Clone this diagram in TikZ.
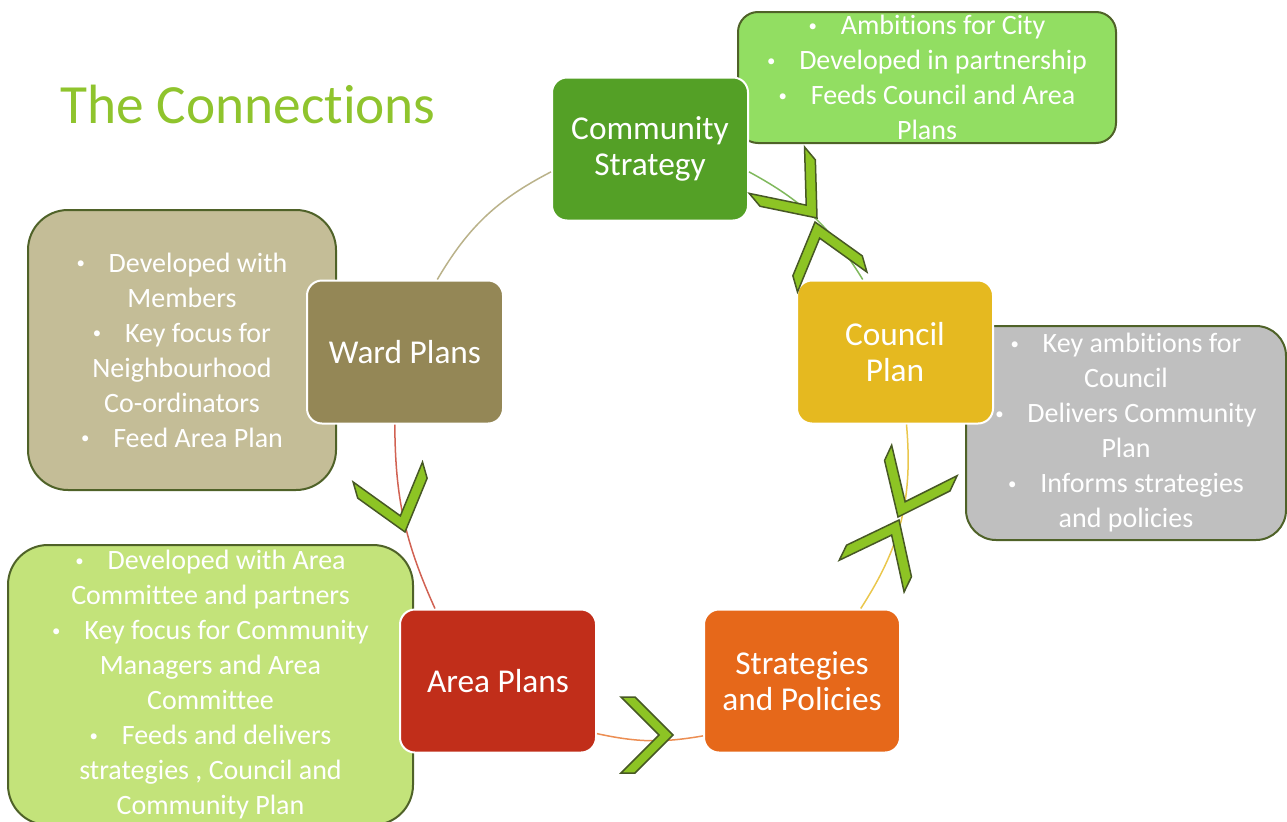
\documentclass[tikz,border=0pt]{standalone}
\usepackage{fontspec}
\setmainfont[Ligatures=NoCommon]{Carlito}
\usepackage{graphicx}
\usepackage{tikz}
\usetikzlibrary{positioning}

\newdimen\pxl \pxl=0.75pt
\newcommand\notebullet{\raisebox{0.12em}{\scalebox{0.6}{•}}\hspace{0.85em}}

\definecolor{titleGreen}{RGB}{143,196,45}
\definecolor{communityGreen}{RGB}{84,160,38}
\definecolor{councilYellow}{RGB}{229,185,32}
\definecolor{strategiesOrange}{RGB}{230,104,26}
\definecolor{areaRed}{RGB}{193,46,26}
\definecolor{wardOlive}{RGB}{148,135,86}
\definecolor{noteBorder}{RGB}{79,98,40}
\definecolor{cityNote}{RGB}{146,222,98}
\definecolor{wardNote}{RGB}{196,189,151}
\definecolor{councilNote}{RGB}{191,191,191}
\definecolor{areaNote}{RGB}{195,227,122}
\definecolor{chevronGreen}{RGB}{141,196,36}

\begin{document}
\begin{tikzpicture}[
        x=0.75pt, y=-0.75pt,
        stage/.style={
            rectangle, rounded corners=15\pxl, draw=white, line width=2\pxl, text=white, align=center,
            minimum width=196\pxl, minimum height=143\pxl, inner sep=0pt,
            font=\fontsize{25}{27}\selectfont
        },
        note/.style={
            rectangle, rounded corners=30\pxl, draw=noteBorder, line width=2\pxl, text=white, align=center,
            inner sep=0pt, font=\fontsize{21}{26.25}\selectfont
        },
        link/.style={line width=1.5\pxl, bend right=#1},
        chevron/.pic={
            \path[draw=noteBorder!90!black, fill=chevronGreen, line width=1.5\pxl]
                (0,0) -- (-38,-38) -- (-52,-38) -- (-14,0) -- (-52,38) -- (-38,38) -- cycle;
        },
    ]
    \clip (0,0) rectangle (1287,821);

    \node (title) [anchor=base west, text=titleGreen, font=\fontsize{41.5}{50}\selectfont] at (56,123) {The Connections};

    % notes behind the stages
    \node (communityStrategyNote) [note, fill=cityNote, rounded corners=20\pxl, minimum width=378\pxl, minimum height=131\pxl] at (927,77.5) {
        \notebullet Ambitions for City \\
        \notebullet Developed in partnership \\
        \notebullet Feeds Council and Area \\
        Plans
    };
    \node (wardPlansNote) [note, fill=wardNote, rounded corners=40\pxl, minimum width=308\pxl, minimum height=280\pxl] at (182,350) {
        \notebullet Developed with \\
        Members \\
        \notebullet Key focus for \\
        Neighbourhood \\
        Co-ordinators \\
        \notebullet Feed Area Plan
    };
    \node (councilPlanNote) [note, fill=councilNote, minimum width=320\pxl, minimum height=214\pxl] at (1126,433) {
        \notebullet Key ambitions for \\
        Council \\
        \notebullet Delivers Community \\
        Plan \\
        \notebullet Informs strategies \\
        and policies
    };
    \node (areaPlansNote) [note, fill=areaNote, rounded corners=40\pxl, minimum width=405\pxl, minimum height=280\pxl] at (210.5,685) {
        \notebullet Developed with Area \\
        Committee and partners \\
        \notebullet Key focus for Community \\
        Managers and Area \\
        Committee \\
        \notebullet Feeds and delivers \\
        strategies , Council and \\
        Community Plan
    };

    \node (communityStrategy) [stage, fill=communityGreen] at (650,149) {Community \\ Strategy};
    \node (councilPlan) [stage, fill=councilYellow] at (895,352) {Council \\ Plan};
    \node (strategiesPolicies) [stage, fill=strategiesOrange] at (802,681) {Strategies \\ and Policies};
    \node (areaPlans) [stage, fill=areaRed] at (498,681) {Area Plans};
    \node (wardPlans) [stage, fill=wardOlive] at (405,352) {Ward Plans};

    \path (communityStrategy.193) edge[link=16, draw=wardNote!80!wardOlive] (wardPlans.66);
    \path (wardPlans.262) edge[link=12, draw=areaRed!75] (areaPlans.131);
    \path (areaPlans.332) edge[link=11, draw=strategiesOrange!75] (strategiesPolicies.209);
    \path (strategiesPolicies.51) edge[link=19, draw=councilYellow!80] (councilPlan.279);
    \path (councilPlan.114) edge[link=15, draw=communityGreen!75] (communityStrategy.347);

    % chevrons on the ring
    \pic[rotate=-50, xscale=1.2, yscale=.95] at (817,218) {chevron};
    \pic[rotate=106, xscale=1.2, yscale=.95] at (815,222) {chevron};
    \pic[rotate=-115, xscale=1.2, yscale=.95] at (898,517) {chevron};
    \pic[rotate=64, xscale=1.2, yscale=.95] at (899,520) {chevron};
    \pic[rotate=-74, xscale=1.2, yscale=.95] at (405,532) {chevron};
    \pic at (673,735) {chevron};

\end{tikzpicture}
\end{document}
